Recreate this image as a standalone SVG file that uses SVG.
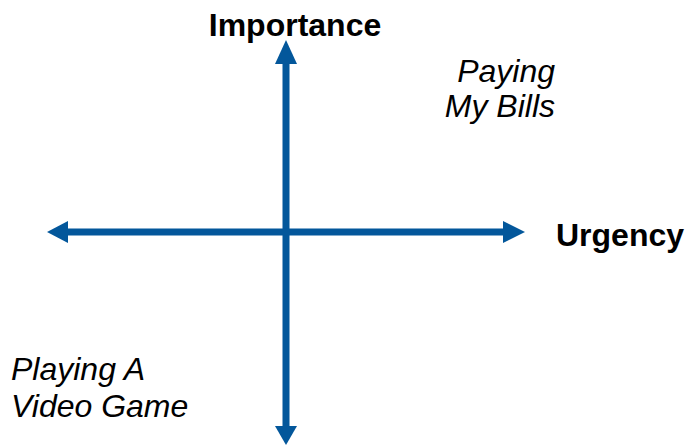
<svg xmlns="http://www.w3.org/2000/svg" width="685" height="446" viewBox="0 0 685 446">
<style>
.ax{stroke:#03579B;stroke-width:7;fill:none}
.hd{fill:#03579B}
.b{font-family:"Liberation Sans",Arial,sans-serif;font-weight:bold;font-size:32px;fill:#000}
.i{font-family:"Liberation Sans",Arial,sans-serif;font-style:italic;font-size:32px;fill:#000}
</style>
<rect width="685" height="446" fill="#fff"/>
<g id="connectors">
<line class="ax" x1="286" y1="60" x2="286" y2="428"/>
<line class="ax" x1="64" y1="232" x2="507" y2="232"/>
<polygon class="hd" points="286,40 275,64 297,64"/>
<polygon class="hd" points="286,445 275,426 297,426"/>
<polygon class="hd" points="47,232 68,221 68,243"/>
<polygon class="hd" points="525,232 503,221 503,243"/>
</g>
<g id="importance"><text class="b" x="295" y="36" text-anchor="middle">Importance</text></g>
<g id="urgency"><text class="b" x="556" y="246">Urgency</text></g>
<g id="paying-bills"><text class="i" x="555" y="82" text-anchor="end">Paying</text><text class="i" x="555" y="117" text-anchor="end">My Bills</text></g>
<g id="video-game"><text class="i" x="11" y="380">Playing A</text><text class="i" x="11" y="417">Video Game</text></g>
</svg>
